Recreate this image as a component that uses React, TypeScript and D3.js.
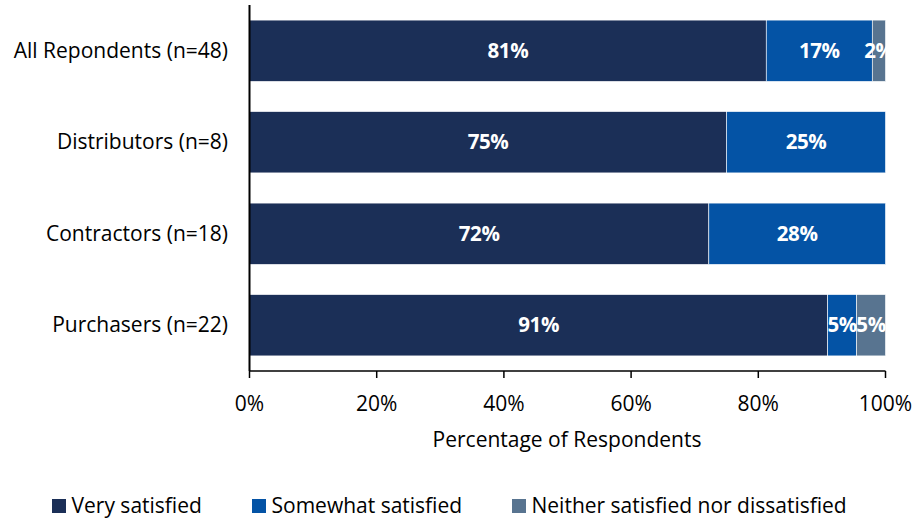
import React from "react";
import * as d3 from "d3";

const categories = ["All Repondents (n=48)", "Distributors (n=8)", "Contractors (n=18)", "Purchasers (n=22)"];
const seriesNames = ["Very satisfied", "Somewhat satisfied", "Neither satisfied nor dissatisfied"];
const verySatisfied = [81.25, 75, 72.22, 90.91];
const somewhatSatisfied = [16.67, 25, 27.78, 4.545];
const neitherSatisfied = [2.08, 0, 0, 4.545];
const colors = ["#1B2F57", "#0453A5", "#587490"];
const xTicks = [0, 20, 40, 60, 80, 100];
const xTitle = "Percentage of Respondents";

const FONT = "'Open Sans', Lato, sans-serif";
const FS = 21;

export default function App() {
  const W = 916, H = 519;
  const x = d3.scaleLinear().domain([0, 100]).range([249.5, 885.5]);
  const y = d3.scaleBand<string>().domain(categories).range([5, 371]).paddingInner(0.33).paddingOuter(0.165);
  const rows = categories.map((c, i) => ({ cat: c, v: [verySatisfied[i], somewhatSatisfied[i], neitherSatisfied[i]] }));
  const stack = d3.stack<any>().keys(["0", "1", "2"]).value((d, k) => d.v[+k]);
  const layers = stack(rows);
  const legendX = [52, 252, 512];
  return (
    <svg width={W} height={H} style={{ position: "absolute", left: 0, top: 0 }} fontFamily={FONT}>
      {layers.map((layer, li) => (
        <g key={li}>
          {layer.map((seg, i) => {
            const val = seg[1] - seg[0];
            if (val <= 0) return null;
            const x0 = x(seg[0]), x1 = x(seg[1]);
            const yy = y(categories[i])!;
            return (
              <rect key={i} x={x0} y={yy} width={x1 - x0} height={y.bandwidth()} fill={colors[li]} stroke="#fff" strokeWidth={0.6} />
            );
          })}
        </g>
      ))}
      {layers.map((layer, li) => (
        <g key={"t" + li}>
          {layer.map((seg, i) => {
            const val = seg[1] - seg[0];
            if (val <= 0) return null;
            const cx = (x(seg[0]) + x(seg[1])) / 2;
            const cy = y(categories[i])! + y.bandwidth() / 2;
            return (
              <text key={i} x={cx} y={cy} dy="0.34em" textAnchor="middle" fill="#fff" fontWeight="bold" fontSize={20.5} letterSpacing={-0.4}>
                {Math.round(val)}%
              </text>
            );
          })}
        </g>
      ))}
      {categories.map((c) => (
        <text key={c} x={228} y={y(c)! + y.bandwidth() / 2} dy="0.33em" textAnchor="end" fontSize={FS} fill="#000">
          {c}
        </text>
      ))}
      <line x1={249.5} x2={249.5} y1={5} y2={371} stroke="#000" strokeWidth={2} />
      <line x1={249.5} x2={885.5} y1={371} y2={371} stroke="#000" strokeWidth={1.5} />
      {xTicks.map((t) => (
        <g key={t}>
          <line x1={x(t)} x2={x(t)} y1={371} y2={378} stroke="#000" strokeWidth={1.5} />
          <text x={x(t)} y={411} textAnchor="middle" fontSize={FS} fill="#000">
            {t}%
          </text>
        </g>
      ))}
      <text x={567} y={447} textAnchor="middle" fontSize={FS} fill="#000">
        {xTitle}
      </text>
      {seriesNames.map((s, i) => (
        <g key={s}>
          <rect x={legendX[i]} y={499} width={14} height={14} fill={colors[i]} />
          <text x={legendX[i] + 19.5} y={513} fontSize={FS} fill="#000">
            {s}
          </text>
        </g>
      ))}
    </svg>
  );
}
